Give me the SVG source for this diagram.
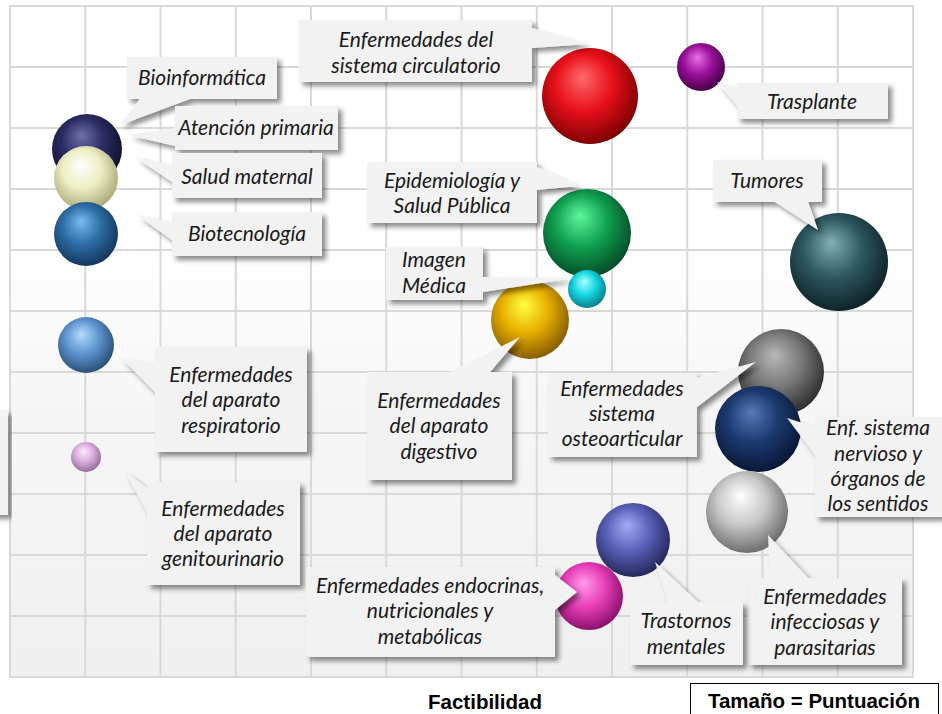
<svg xmlns="http://www.w3.org/2000/svg" width="942" height="714" viewBox="0 0 942 714">
<defs>
<linearGradient id="bg" x1="0" y1="0" x2="0" y2="1">
<stop offset="0" stop-color="#ffffff"/><stop offset="0.35" stop-color="#ffffff"/><stop offset="0.6" stop-color="#f6f6f6"/><stop offset="1" stop-color="#f0f0f0"/>
</linearGradient>
<filter id="sh" x="-10%" y="-20%" width="130%" height="150%">
<feDropShadow dx="4" dy="4" stdDeviation="2.5" flood-color="#000" flood-opacity="0.45"/>
</filter>
<radialGradient id="g1" cx="0.45" cy="0.42" r="0.6" fx="0.42" fy="0.3"><stop offset="0" stop-color="#7070a8"/><stop offset="0.5" stop-color="#2c2c64"/><stop offset="1" stop-color="#10102a"/></radialGradient>
<radialGradient id="g2" cx="0.45" cy="0.42" r="0.6" fx="0.42" fy="0.3"><stop offset="0" stop-color="#ffffff"/><stop offset="0.5" stop-color="#eeeec4"/><stop offset="1" stop-color="#a8a878"/></radialGradient>
<radialGradient id="g3" cx="0.45" cy="0.42" r="0.6" fx="0.42" fy="0.3"><stop offset="0" stop-color="#78bcf0"/><stop offset="0.5" stop-color="#2e6ea6"/><stop offset="1" stop-color="#12345a"/></radialGradient>
<radialGradient id="g4" cx="0.45" cy="0.42" r="0.6" fx="0.42" fy="0.3"><stop offset="0" stop-color="#b4dcfc"/><stop offset="0.5" stop-color="#5f95cf"/><stop offset="1" stop-color="#284c76"/></radialGradient>
<radialGradient id="g5" cx="0.45" cy="0.42" r="0.6" fx="0.42" fy="0.3"><stop offset="0" stop-color="#fbeefc"/><stop offset="0.5" stop-color="#dcaee0"/><stop offset="1" stop-color="#946a9a"/></radialGradient>
<radialGradient id="g6" cx="0.45" cy="0.42" r="0.6" fx="0.42" fy="0.3"><stop offset="0" stop-color="#ff6a6a"/><stop offset="0.5" stop-color="#e8101a"/><stop offset="1" stop-color="#7a0000"/></radialGradient>
<radialGradient id="g7" cx="0.45" cy="0.42" r="0.6" fx="0.42" fy="0.3"><stop offset="0" stop-color="#e870e8"/><stop offset="0.5" stop-color="#9a109a"/><stop offset="1" stop-color="#440044"/></radialGradient>
<radialGradient id="g8" cx="0.45" cy="0.42" r="0.6" fx="0.42" fy="0.3"><stop offset="0" stop-color="#80b0b8"/><stop offset="0.5" stop-color="#2e5860"/><stop offset="1" stop-color="#0c2026"/></radialGradient>
<radialGradient id="g9" cx="0.45" cy="0.42" r="0.6" fx="0.42" fy="0.3"><stop offset="0" stop-color="#5cf89c"/><stop offset="0.5" stop-color="#10a050"/><stop offset="1" stop-color="#044a26"/></radialGradient>
<radialGradient id="g10" cx="0.45" cy="0.42" r="0.6" fx="0.42" fy="0.3"><stop offset="0" stop-color="#b0ffff"/><stop offset="0.5" stop-color="#14d8e2"/><stop offset="1" stop-color="#0a7a88"/></radialGradient>
<radialGradient id="g11" cx="0.45" cy="0.42" r="0.6" fx="0.42" fy="0.3"><stop offset="0" stop-color="#ffff40"/><stop offset="0.5" stop-color="#e8b000"/><stop offset="1" stop-color="#845a00"/></radialGradient>
<radialGradient id="g12" cx="0.45" cy="0.42" r="0.6" fx="0.42" fy="0.3"><stop offset="0" stop-color="#b8b8b8"/><stop offset="0.5" stop-color="#7a7a7a"/><stop offset="1" stop-color="#2c2c2c"/></radialGradient>
<radialGradient id="g13" cx="0.45" cy="0.42" r="0.6" fx="0.42" fy="0.3"><stop offset="0" stop-color="#5878b8"/><stop offset="0.5" stop-color="#1c3a70"/><stop offset="1" stop-color="#081634"/></radialGradient>
<radialGradient id="g14" cx="0.45" cy="0.42" r="0.6" fx="0.42" fy="0.3"><stop offset="0" stop-color="#ffffff"/><stop offset="0.5" stop-color="#c8c8c8"/><stop offset="1" stop-color="#6a6a6a"/></radialGradient>
<radialGradient id="g15" cx="0.45" cy="0.42" r="0.6" fx="0.42" fy="0.3"><stop offset="0" stop-color="#a4aaf6"/><stop offset="0.5" stop-color="#5a60b8"/><stop offset="1" stop-color="#222658"/></radialGradient>
<radialGradient id="g16" cx="0.45" cy="0.42" r="0.6" fx="0.42" fy="0.3"><stop offset="0" stop-color="#ff9cec"/><stop offset="0.5" stop-color="#e840b8"/><stop offset="1" stop-color="#8a0e6a"/></radialGradient>
</defs>
<style>
.grid line{stroke:#d9d9d9;stroke-width:2}
.co{fill:#f2f2f2;filter:url(#sh)}
.lb{font-family:Lato,"Noto Sans",sans-serif;font-style:italic;font-size:21px;fill:#1a1a1a;text-anchor:middle}
.ax{font-family:"Liberation Sans",Arial,sans-serif;font-weight:bold;font-size:20.5px;fill:#000;text-anchor:middle}
</style>
<rect x="0" y="0" width="942" height="714" fill="#ffffff"/>
<g id="plot-area">
<rect x="10" y="6" width="903" height="671" fill="url(#bg)"/>
<g class="grid">
<line x1="10" y1="5" x2="10" y2="678"/><line x1="85.25" y1="6" x2="85.25" y2="677"/><line x1="160.5" y1="6" x2="160.5" y2="677"/><line x1="235.75" y1="6" x2="235.75" y2="677"/><line x1="311" y1="6" x2="311" y2="677"/><line x1="386.25" y1="6" x2="386.25" y2="677"/><line x1="461.5" y1="6" x2="461.5" y2="677"/><line x1="536.75" y1="6" x2="536.75" y2="677"/><line x1="612" y1="6" x2="612" y2="677"/><line x1="687.25" y1="6" x2="687.25" y2="677"/><line x1="762.5" y1="6" x2="762.5" y2="677"/><line x1="837.75" y1="6" x2="837.75" y2="677"/><line x1="913" y1="5" x2="913" y2="678"/>
<line x1="10" y1="6" x2="913" y2="6"/><line x1="10" y1="67" x2="913" y2="67"/><line x1="10" y1="128" x2="913" y2="128"/><line x1="10" y1="189" x2="913" y2="189"/><line x1="10" y1="250" x2="913" y2="250"/><line x1="10" y1="311" x2="913" y2="311"/><line x1="10" y1="372" x2="913" y2="372"/><line x1="10" y1="433" x2="913" y2="433"/><line x1="10" y1="494" x2="913" y2="494"/><line x1="10" y1="555" x2="913" y2="555"/><line x1="10" y1="616" x2="913" y2="616"/><line x1="10" y1="677" x2="913" y2="677"/>
</g>
</g>
<g id="bubbles">
<g id="node-bioinformatica"><circle cx="87" cy="149" r="35" fill="url(#g1)"/></g>
<g id="node-salud-maternal"><circle cx="86" cy="178" r="32" fill="url(#g2)"/></g>
<g id="node-biotecnologia"><circle cx="86" cy="234" r="32" fill="url(#g3)"/></g>
<g id="node-respiratorio"><circle cx="86" cy="345" r="28" fill="url(#g4)"/></g>
<g id="node-genitourinario"><circle cx="86" cy="457" r="15" fill="url(#g5)"/></g>
<g id="node-circulatorio"><circle cx="590" cy="96" r="48" fill="url(#g6)"/></g>
<g id="node-trasplante"><circle cx="701" cy="67" r="24" fill="url(#g7)"/></g>
<g id="node-tumores"><circle cx="839" cy="262" r="49" fill="url(#g8)"/></g>
<g id="node-epidemiologia"><circle cx="587" cy="233" r="44" fill="url(#g9)"/></g>
<g id="node-imagen-medica"><circle cx="587" cy="289" r="19" fill="url(#g10)"/></g>
<g id="node-digestivo"><circle cx="530" cy="320" r="39" fill="url(#g11)"/></g>
<g id="node-osteoarticular"><circle cx="781" cy="372" r="43" fill="url(#g12)"/></g>
<g id="node-nervioso"><circle cx="758" cy="429" r="43" fill="url(#g13)"/></g>
<g id="node-infecciosas"><circle cx="747" cy="512" r="41" fill="url(#g14)"/></g>
<g id="node-trastornos"><circle cx="633" cy="540" r="37" fill="url(#g15)"/></g>
<g id="node-endocrinas"><circle cx="589" cy="596" r="34" fill="url(#g16)"/></g>
</g>
<g id="connectors">
<g id="label-left-cut"><rect class="co" x="-12" y="410" width="20" height="105"/></g>
<g id="label-bioinformatica"><path class="co" d="M127,57 H277 V99 H190 L120,125 L140,99 H127 Z"/><text class="lb" x="202" y="85">Bioinformática</text></g>
<g id="label-atencion"><path class="co" d="M175,106 H338 V150 H175 V146 L128,135 L175,128 Z"/><text class="lb" x="256" y="135">Atención primaria</text></g>
<g id="label-salud"><path class="co" d="M172,153 H322 V198 H172 V182 L135,157 L172,165 Z"/><text class="lb" x="247" y="184">Salud maternal</text></g>
<g id="label-biotec"><path class="co" d="M172,212 H322 V256 H172 V240 L137,215 L172,222 Z"/><text class="lb" x="247" y="241">Biotecnología</text></g>
<g id="label-respiratorio"><path class="co" d="M155,347 H307 V452 H155 V392 L121,358 L155,364 Z"/><text class="lb" x="231" y="382">Enfermedades</text><text class="lb" x="231" y="407">del aparato</text><text class="lb" x="231" y="433">respiratorio</text></g>
<g id="label-genitourinario"><path class="co" d="M147,482 H300 V585 H147 V512 L125,472 L147,488 Z"/><text class="lb" x="223" y="516">Enfermedades</text><text class="lb" x="223" y="541">del aparato</text><text class="lb" x="223" y="566">genitourinario</text></g>
<g id="label-circulatorio"><path class="co" d="M299,20 H532 V28 L588,44 L532,48 V82 H299 Z"/><text class="lb" x="416" y="47">Enfermedades del</text><text class="lb" x="416" y="73">sistema circulatorio</text></g>
<g id="label-epidemiologia"><path class="co" d="M367,162 H537 V167 L578,186 L537,190 V223 H367 Z"/><text class="lb" x="452" y="188">Epidemiología y</text><text class="lb" x="452" y="213">Salud Pública</text></g>
<g id="label-imagen"><path class="co" d="M386,247 H483 V277 L573,278 L483,292 V300 H386 Z"/><text class="lb" x="434" y="267">Imagen</text><text class="lb" x="434" y="293">Médica</text></g>
<g id="label-digestivo"><path class="co" d="M367,372 H450 L520,337 L490,372 H512 V480 H367 Z"/><text class="lb" x="439" y="408">Enfermedades</text><text class="lb" x="439" y="433">del aparato</text><text class="lb" x="439" y="459">digestivo</text></g>
<g id="label-osteoarticular"><path class="co" d="M548,373 H697 V378 L756,362 L697,407 V457 H548 Z"/><text class="lb" x="622" y="396">Enfermedades</text><text class="lb" x="622" y="421">sistema</text><text class="lb" x="622" y="446">osteoarticular</text></g>
<g id="label-nervioso"><path class="co" d="M815,417 H942 V517 H815 V455 L787,418 L815,427 Z"/><text class="lb" x="878" y="435">Enf. sistema</text><text class="lb" x="878" y="461">nervioso y</text><text class="lb" x="878" y="486">órganos de</text><text class="lb" x="878" y="511">los sentidos</text></g>
<g id="label-infecciosas"><path class="co" d="M748,578 H770 L768,535 L808,578 H902 V665 H748 Z"/><text class="lb" x="825" y="604">Enfermedades</text><text class="lb" x="825" y="629">infecciosas y</text><text class="lb" x="825" y="655">parasitarias</text></g>
<g id="label-trastornos"><path class="co" d="M630,602 H668 L655,562 L698,602 H743 V665 H630 Z"/><text class="lb" x="686" y="628">Trastornos</text><text class="lb" x="686" y="654">mentales</text></g>
<g id="label-endocrinas"><path class="co" d="M306,567 H555 V575 L577,592 L555,610 V657 H306 Z"/><text class="lb" x="430" y="593">Enfermedades endocrinas,</text><text class="lb" x="430" y="618">nutricionales y</text><text class="lb" x="430" y="644">metabólicas</text></g>
<g id="label-trasplante"><path class="co" d="M737,83 H888 V119 H737 V106 L717,82 L737,88 Z"/><text class="lb" x="812" y="109">Trasplante</text></g>
<g id="label-tumores"><path class="co" d="M713,160 H822 V202 H808 L818,230 L775,202 H713 Z"/><text class="lb" x="767" y="188">Tumores</text></g>
</g>
<g id="axis-title"><text class="ax" x="485" y="709">Factibilidad</text></g>
<g id="legend"><rect x="690.5" y="683.5" width="248" height="40" fill="#ffffff" stroke="#000" stroke-width="1"/><text class="ax" x="814" y="708">Tamaño = Puntuación</text></g>
</svg>
